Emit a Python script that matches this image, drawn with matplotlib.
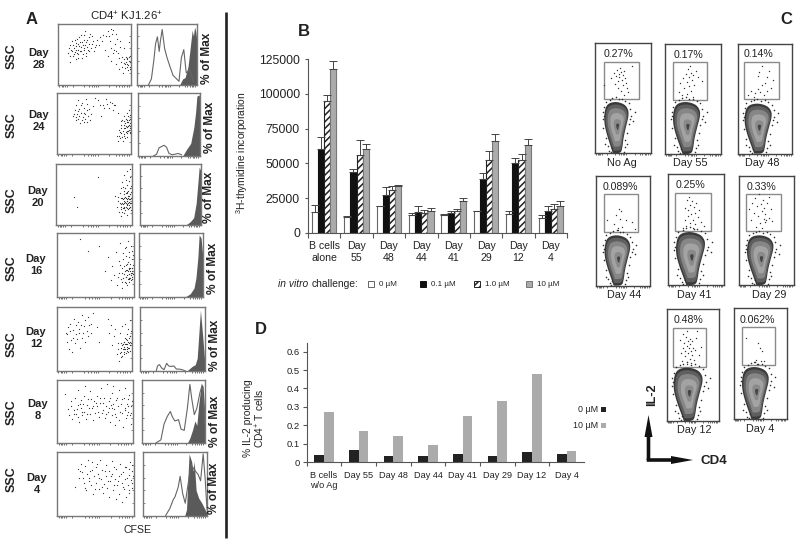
#!/usr/bin/env python3
"""Flow cytometry / proliferation figure, panels A-D."""
import matplotlib
matplotlib.use("Agg")
import matplotlib.pyplot as plt
from matplotlib.patches import Polygon, Rectangle

W, H = 800, 543
plt.rcParams.update({"font.family": ["Liberation Sans", "DejaVu Sans"],
                     "mathtext.default": "regular", "hatch.linewidth": 1.1})
INK = "#222222"
AXC = "#555555"

# ---- panel B data -----------------------------------------------------------
b_groups = ["B cells\nalone", "Day\n55", "Day\n48", "Day\n44", "Day\n41", "Day\n29", "Day\n12", "Day\n4"]
b_0 = [15000, 11500, 19000, 13000, 12500, 15500, 13500, 10500]
b_01 = [60000, 44000, 27000, 15000, 14000, 39000, 50000, 16000]
b_1 = [95000, 56000, 31000, 14000, 16000, 52500, 52500, 17000]
b_10 = [118000, 60000, 33500, 15500, 22500, 66000, 63500, 19000]
b_0_top = [20000, 12000, 19500, 14500, 13500, 16000, 16000, 13000]
b_01_top = [69000, 46000, 33000, 19000, 15500, 43000, 54000, 19000]
b_1_top = [99500, 67000, 33500, 16500, 17000, 59000, 56500, 20500]
b_10_top = [124000, 64000, 34500, 17500, 25000, 71000, 67500, 22500]
b_ticks = [0, 25000, 50000, 75000, 100000, 125000]

# ---- panel D data -----------------------------------------------------------
d_groups = ["B cells\nw/o Ag", "Day 55", "Day 48", "Day 44", "Day 41", "Day 29", "Day 12", "Day 4"]
d_0 = [0.04, 0.065, 0.03, 0.033, 0.045, 0.03, 0.055, 0.042]
d_10 = [0.27, 0.17, 0.14, 0.09, 0.25, 0.33, 0.48, 0.062]
d_ticks = [0, 0.1, 0.2, 0.3, 0.4, 0.5, 0.6]
d_ticklabels = ["0", "0.1", "0.2", "0.3", "0.4", "0.5", "0.6"]

# ---- panel A data: dots in % of panel, histogram outline and filled curve ---
a_days = ["28", "24", "20", "16", "12", "8", "4"]
a_dots = [
    [(14, 52), (16, 66), (17, 38), (18, 58), (19, 72), (21, 47), (22, 61), (23, 54), (24, 69), (25, 43), (26, 76),
     (27, 58), (28, 50), (29, 64), (30, 71), (31, 82), (32, 56), (33, 45), (34, 66), (35, 74), (36, 60), (37, 88),
     (38, 52), (39, 70), (40, 63), (42, 78), (43, 55), (44, 84), (46, 68), (48, 72), (50, 62), (53, 74), (56, 66),
     (60, 72), (64, 58), (66, 80), (68, 88), (69, 47), (71, 72), (72, 60), (73, 40), (74, 84), (75, 52), (76, 90),
     (78, 68), (79, 34), (80, 56), (81, 76), (83, 44), (84, 26), (85, 62), (86, 38), (87, 30), (88, 46), (89, 20),
     (90, 36), (91, 42), (92, 28), (93, 38), (94, 44), (95, 34), (96, 24), (97, 40), (97, 70), (98, 30), (99, 48)],
    [(22, 62), (24, 72), (25, 55), (26, 80), (27, 65), (28, 88), (29, 58), (30, 74), (31, 50), (33, 68), (34, 84),
     (35, 60), (36, 76), (37, 52), (38, 66), (39, 90), (40, 72), (42, 62), (44, 56), (48, 78), (52, 92), (56, 88),
     (60, 62), (62, 80), (66, 90), (68, 82), (70, 76), (74, 84), (76, 72), (79, 80), (81, 30), (82, 68), (83, 22),
     (84, 40), (85, 26), (86, 48), (87, 34), (88, 56), (89, 22), (90, 42), (91, 30), (91, 62), (92, 50), (93, 36),
     (94, 44), (94, 68), (95, 28), (95, 56), (96, 38), (96, 62), (97, 48), (97, 72), (98, 34), (98, 58), (99, 42)],
    [(24, 46), (28, 30), (55, 78), (78, 48), (80, 30), (82, 40), (83, 22), (84, 52), (85, 34), (86, 14), (86, 60),
     (87, 44), (87, 70), (88, 28), (89, 50), (89, 82), (90, 36), (90, 20), (91, 60), (91, 46), (92, 30), (92, 74),
     (93, 40), (93, 54), (93, 16), (94, 34), (94, 66), (94, 88), (95, 44), (95, 26), (95, 56), (96, 38), (96, 72),
     (96, 48), (97, 30), (97, 60), (97, 42), (97, 92), (98, 50), (98, 36), (98, 78), (99, 44), (99, 24), (99, 64)],
    [(30, 90), (40, 72), (55, 80), (62, 40), (66, 62), (70, 26), (72, 48), (74, 34), (76, 70), (78, 18), (80, 56),
     (81, 38), (82, 84), (83, 28), (84, 46), (85, 14), (86, 60), (87, 36), (88, 24), (88, 76), (89, 50), (90, 32),
     (90, 64), (91, 42), (91, 18), (92, 88), (92, 54), (93, 36), (93, 46), (94, 28), (94, 70), (95, 40), (95, 52),
     (96, 34), (96, 80), (97, 46), (97, 60), (98, 38), (98, 72), (99, 50)],
    [(12, 60), (13, 46), (15, 68), (16, 34), (18, 74), (19, 48), (20, 30), (21, 64), (23, 82), (24, 44), (26, 58),
     (28, 76), (30, 66), (31, 36), (33, 88), (34, 52), (36, 70), (38, 46), (40, 62), (41, 84), (43, 72), (46, 60),
     (48, 90), (54, 68), (56, 46), (68, 82), (70, 60), (72, 72), (74, 40), (76, 54), (78, 66), (80, 26), (81, 44),
     (83, 16), (84, 60), (85, 30), (86, 22), (87, 40), (87, 70), (88, 34), (89, 46), (89, 26), (90, 38), (91, 52),
     (91, 74), (92, 42), (93, 32), (93, 58), (94, 48), (95, 36), (95, 66), (96, 44), (97, 54), (97, 80), (98, 40),
     (99, 62)],
    [(10, 78), (14, 54), (16, 44), (18, 66), (20, 38), (22, 52), (24, 72), (25, 46), (27, 60), (28, 84), (29, 34),
     (31, 56), (32, 68), (33, 44), (35, 74), (36, 50), (37, 90), (38, 38), (40, 60), (41, 70), (43, 46), (44, 82),
     (46, 56), (47, 36), (49, 66), (50, 48), (52, 74), (53, 58), (55, 42), (57, 64), (58, 88), (60, 52), (62, 72),
     (63, 40), (64, 58), (66, 94), (67, 50), (68, 66), (70, 34), (71, 60), (72, 80), (73, 44), (74, 90), (75, 54),
     (76, 28), (77, 68), (78, 42), (80, 58), (81, 84), (82, 36), (84, 62), (85, 48), (87, 26), (88, 72), (89, 52),
     (90, 88), (91, 40), (92, 62), (93, 50), (95, 76), (96, 44), (97, 58), (98, 30), (99, 66)],
    [(24, 46), (27, 74), (29, 60), (31, 82), (33, 68), (35, 52), (37, 78), (38, 40), (40, 88), (41, 60), (43, 70),
     (44, 48), (46, 84), (47, 34), (48, 62), (50, 76), (51, 52), (53, 66), (54, 42), (56, 88), (57, 58), (58, 72),
     (60, 36), (61, 50), (63, 80), (64, 62), (65, 44), (67, 70), (68, 30), (69, 54), (71, 86), (72, 66), (73, 40),
     (75, 58), (76, 26), (77, 74), (78, 48), (80, 62), (81, 34), (82, 82), (84, 52), (85, 22), (86, 68), (87, 42),
     (88, 58), (89, 30), (90, 76), (92, 48), (93, 64), (94, 36), (95, 84), (96, 56), (97, 70), (98, 44), (99, 62)],
]
a_more = [
    [(15, 60), (17, 48), (19, 56), (20, 66), (22, 50), (23, 74), (24, 58), (25, 64), (26, 52), (27, 68), (28, 44), (29, 78),
     (30, 56), (31, 62), (33, 70), (34, 50), (35, 58), (36, 82), (37, 66), (38, 48), (40, 74), (41, 58), (43, 68), (45, 60),
     (47, 80), (49, 56), (52, 66), (58, 78), (62, 82), (70, 80), (72, 92), (77, 58), (80, 84), (82, 52), (85, 72), (90, 60),
     (92, 34), (93, 46), (94, 30), (96, 32), (97, 46), (98, 38), (99, 26), (95, 42)],
    [(23, 66), (26, 60), (28, 70), (30, 62), (32, 80), (34, 56), (36, 68), (38, 58), (40, 82), (41, 52), (43, 74), (46, 66),
     (58, 80), (64, 76), (72, 86), (77, 80), (84, 30), (85, 36), (86, 54), (87, 42), (88, 28), (89, 38), (90, 48), (90, 32),
     (91, 54), (92, 26), (92, 42), (93, 58), (93, 46), (94, 38), (94, 52), (95, 44), (95, 34), (96, 52), (96, 46), (97, 40),
     (97, 56), (98, 46), (98, 64), (99, 50), (99, 36)],
    [(81, 46), (84, 36), (85, 26), (85, 44), (86, 30), (87, 22), (87, 36), (88, 42), (88, 34), (89, 28), (89, 40), (90, 44),
     (90, 30), (91, 38), (91, 24), (92, 36), (92, 44), (93, 32), (93, 42), (94, 40), (94, 28), (95, 36), (95, 48), (96, 42),
     (96, 32), (96, 28), (97, 36), (97, 50), (98, 42), (98, 30), (99, 36), (99, 54), (94, 52), (92, 52), (90, 56), (88, 62)],
    [(79, 32), (82, 50), (84, 24), (85, 38), (86, 30), (87, 48), (88, 40), (89, 22), (89, 32), (90, 42), (91, 34), (91, 52),
     (92, 28), (92, 40), (93, 30), (93, 24), (94, 36), (94, 44), (95, 30), (95, 46), (96, 38), (96, 26), (97, 40), (97, 32),
     (98, 46), (98, 28), (99, 36), (99, 66), (86, 68), (90, 78), (94, 62)],
    [(14, 58), (17, 62), (22, 52), (25, 72), (27, 50), (29, 60), (32, 72), (35, 60), (37, 80), (42, 54), (45, 74), (82, 34),
     (84, 28), (85, 44), (86, 36), (87, 24), (88, 42), (89, 34), (90, 30), (90, 46), (91, 34), (91, 42), (92, 28), (92, 50),
     (93, 38), (94, 34), (94, 42), (95, 30), (95, 46), (96, 36), (96, 52), (97, 40), (97, 32), (98, 46), (98, 54), (99, 44)],
    [(19, 58), (23, 46), (26, 54), (28, 42), (30, 62), (33, 50), (34, 62), (39, 46), (42, 56), (45, 70), (48, 58), (51, 64),
     (54, 50), (56, 72), (59, 48), (61, 64), (65, 46), (69, 56), (70, 72), (73, 56), (74, 62), (76, 46), (79, 72), (83, 50),
     (86, 70), (90, 56), (92, 44), (94, 58), (94, 70), (97, 48)],
    [(30, 70), (34, 60), (36, 44), (39, 66), (42, 54), (45, 72), (49, 42), (52, 82), (55, 60), (59, 46), (62, 70), (66, 54),
     (70, 62), (74, 48), (74, 76), (79, 54), (83, 66), (86, 46), (88, 76), (91, 60), (93, 40), (94, 74), (97, 52), (98, 80)],
]
a_line_x = [
    [19, 24, 28, 31, 34, 37, 39, 42, 46, 50, 55, 60, 66, 70, 74, 78, 82, 88, 94],
    [25, 30, 34, 38, 42, 46, 50, 55, 60, 65, 70],
    [80, 90],
    [60, 90],
    [25, 27, 30, 33, 37, 41, 44, 48, 52, 56, 60, 65, 70],
    [22, 30, 35, 40, 45, 48, 52, 58, 62, 67, 72, 76, 79, 83, 87, 92, 95, 100],
    [35, 42, 47, 50, 55, 58, 62, 66, 75, 82, 86, 90, 94, 97, 100],
]
a_line_y = [
    [0, 10, 40, 68, 79, 55, 72, 91, 60, 45, 30, 16, 10, 6, 45, 58, 20, 25, 5],
    [0, 3, 13, 15, 17, 14, 4, 2, 3, 4, 2],
    [0, 0],
    [0, 0],
    [0, 8, 10, 5, 2, 12, 8, 7, 8, 3, 3, 2, 0],
    [0, 5, 30, 42, 50, 42, 35, 37, 22, 20, 55, 93, 70, 45, 55, 80, 90, 30],
    [0, 12, 25, 30, 45, 62, 35, 20, 80, 70, 65, 55, 97, 60, 10],
]
a_fill_x = [
    [71, 76, 80, 85, 88, 92, 94, 96, 98, 100],
    [72, 78, 85, 90, 93, 95, 99, 100],
    [75, 82, 88, 92, 95, 97, 100],
    [72, 80, 86, 89, 92, 94, 97, 100],
    [72, 80, 85, 88, 90, 93, 96, 100],
    [72, 76, 80, 84, 87, 90, 94, 97, 99, 100],
    [65, 68, 70, 72, 76, 78, 80, 83, 87, 92, 97, 100],
]
a_fill_y = [
    [0, 10, 12, 30, 55, 90, 80, 95, 88, 70],
    [0, 10, 20, 45, 70, 95, 97, 40],
    [0, 5, 12, 35, 70, 95, 88],
    [0, 5, 14, 30, 62, 97, 92, 60],
    [0, 7, 10, 20, 50, 95, 60, 10],
    [0, 8, 20, 35, 28, 60, 95, 90, 60, 20],
    [0, 10, 55, 97, 85, 70, 85, 40, 28, 20, 10, 5],
]

# ---- panel C data -----------------------------------------------------------
c_labels = ["No Ag", "Day 55", "Day 48", "Day 44", "Day 41", "Day 29", "Day 12", "Day 4"]
c_pct = ["0.27%", "0.17%", "0.14%", "0.089%", "0.25%", "0.33%", "0.48%", "0.062%"]
c_dots = [
    [(20, 55), (28, 70), (32, 40), (35, 62), (38, 78), (40, 48), (42, 30), (43, 68), (45, 58), (47, 82), (48, 22), (50, 72),
     (52, 50), (54, 64), (55, 38), (57, 76), (58, 12), (60, 56), (63, 44), (66, 30), (70, 20), (82, 88), (2, 38)],
    [(18, 20), (22, 45), (28, 12), (30, 58), (33, 30), (38, 70), (40, 16), (42, 48), (44, 82), (46, 60), (48, 36), (50, 90),
     (52, 72), (54, 24), (56, 52), (58, 6), (60, 66), (62, 40), (66, 78), (72, 60), (85, 50)],
    [(10, 10), (18, 22), (28, 6), (32, 15), (38, 28), (40, 62), (42, 72), (45, 20), (50, 38), (52, 88), (55, 10), (60, 42),
     (64, 60), (66, 22), (72, 76), (75, 30), (82, 50)],
    [(8, 30), (30, 20), (35, 45), (40, 10), (42, 5), (45, 60), (48, 35), (50, 55), (52, 12), (65, 30), (82, 25), (90, 6)],
    [(22, 8), (26, 28), (28, 60), (30, 12), (32, 80), (34, 38), (36, 55), (38, 90), (40, 22), (42, 68), (44, 44), (46, 78),
     (48, 8), (50, 30), (52, 62), (54, 48), (56, 18), (58, 74), (62, 36), (66, 56), (72, 24), (80, 12)],
    [(8, 60), (14, 30), (18, 76), (22, 50), (26, 88), (28, 12), (32, 66), (35, 40), (38, 98), (40, 22), (42, 72), (44, 54),
     (46, 10), (48, 84), (50, 34), (52, 62), (54, 26), (55, 45), (58, 30), (60, 76), (64, 36), (66, 90), (70, 58), (74, 28)],
    [(20, 70), (24, 35), (26, 14), (28, 50), (30, 85), (32, 62), (34, 28), (36, 42), (38, 78), (40, 8), (40, 55), (42, 92),
     (44, 66), (46, 36), (48, 48), (50, 20), (50, 72), (52, 58), (54, 10), (54, 40), (56, 30), (58, 66), (60, 50), (62, 18),
     (66, 44), (70, 76), (72, 92), (78, 30), (84, 52)],
    [(12, 70), (36, 8), (42, 14), (46, 4), (48, 58), (54, 46), (58, 10), (62, 38), (66, 10)],
]
# blob outline and outer speckle, in (half-width, height) units of each blob box
blob_u = [-0.32, -0.52, -0.78, -1.0, -0.95, -0.72, -0.2, 0.3, 0.72, 0.95, 0.68, 0.5, 0.42, 0.3]
blob_v = [0.0, 0.16, 0.36, 0.6, 0.84, 0.96, 1.0, 0.98, 0.92, 0.78, 0.5, 0.3, 0.12, 0.0]
speck = [(-1.05, 0.5), (-1.1, 0.66), (-1.08, 0.8), (-0.98, 0.9), (-0.85, 0.3), (-0.7, 0.14), (-0.62, 0.05), (-0.5, 0.02),
         (-0.85, 1.0), (-0.55, 1.04), (-0.35, 1.07), (-0.1, 1.09), (0.15, 1.05), (0.4, 1.06), (0.65, 1.02), (0.9, 0.97),
         (1.03, 0.86), (1.08, 0.72), (0.9, 0.56), (0.78, 0.4), (0.65, 0.26), (0.58, 0.12), (0.52, 0.03), (1.25, 0.62),
         (1.35, 0.8), (-0.9, 0.18), (-0.42, 0.1), (0.75, 0.18), (-1.02, 0.72), (1.0, 0.66)]

# ---- pixel layouts ----------------------------------------------------------
A_SC = [(58, 24, 131, 85), (57, 93, 131, 154), (56, 164, 132, 225), (57, 233, 134, 297),
        (57, 307, 132, 371), (57, 380, 133, 443), (57, 452, 134, 516)]
A_HI = [(137, 24, 197, 85), (138, 93, 200, 156), (140, 164, 201, 225), (139, 233, 203, 297),
        (140, 307, 205, 371), (142, 380, 205, 443), (143, 452, 207, 516)]
A_SSC_Y = [56, 125, 200, 268, 344, 412, 479]
A_DAY_XY = [(39, 59), (39, 121), (38, 197), (36, 265), (36, 338), (38, 410), (37, 484)]
A_MAX_XY = [(207, 58), (210, 127), (209, 197.5), (213, 268), (215, 345), (215, 421), (214, 488)]
C_BOX = [(595.3, 43.3, 651.3, 153.3), (664.7, 44, 721.3, 154), (737.7, 43.7, 792.3, 153.7), (596.3, 175.7, 650.3, 285.7),
         (668, 174.3, 724, 285), (738.7, 175.7, 793.7, 285), (666.7, 309.3, 718.7, 421), (733.7, 308.3, 787, 419.3)]
C_GATE = [(603.7, 61.7, 638.7, 99), (672.7, 62.3, 707.3, 99.7), (744.3, 61.7, 779.3, 99), (604, 194.3, 638, 231.7),
          (675.3, 192.7, 711.3, 231), (746, 193.7, 781.3, 231.3), (673.3, 328.3, 706.3, 366.7), (741.7, 327, 775, 365.3)]
C_BLOB = [(604, 630, 101.7), (672.7, 701.7, 101.7), (744.3, 773.3, 103.3), (604.3, 631.7, 235),
          (675.7, 706.7, 231.7), (746.7, 775, 235), (673.3, 704.3, 367.3), (741.7, 770.3, 366.7)]
C_PCT_XY = [(619, 54.3), (688, 55), (759, 54), (620, 187), (690.7, 185.3), (761.7, 187), (688, 320.3), (757, 320.3)]
C_LAB_XY = [(621.7, 163.3), (690.3, 163.3), (762.7, 162.7), (624, 295), (694, 295), (769, 294.5), (694.3, 430), (759.7, 429.3)]
FLOW_TICKS = [0.02, 0.05, 0.07, 0.09, 0.12, 0.2, 0.36, 0.42, 0.46, 0.49, 0.52, 0.55, 0.7, 0.8, 0.84, 0.88, 0.91, 0.94, 0.97]
SIDE_TICKS = [0.0, 0.2, 0.4, 0.6, 0.8, 1.0]


def px_axes(fig, box, **kw):
    x0, y0, x1, y1 = box
    return fig.add_axes([x0 / W, 1 - y1 / H, (x1 - x0) / W, (y1 - y0) / H], **kw)


def flow_frame(ax, color="#777777", lw=1.0, left=False, right=False):
    # ticks are placed as fractions of whatever limits the panel already has
    x0, x1 = ax.get_xlim()
    y0, y1 = ax.get_ylim()
    for s in ax.spines.values():
        s.set_color(color); s.set_linewidth(lw)
    ax.set_xticks([x0 + t * (x1 - x0) for t in FLOW_TICKS]); ax.set_xticklabels([])
    ax.set_yticks([y0 + t * (y1 - y0) for t in SIDE_TICKS] if (left or right) else [])
    ax.set_yticklabels([])
    ax.set_xlim(x0, x1); ax.set_ylim(y0, y1)
    ax.tick_params(axis="x", length=1.6, width=0.5, color="#333333", direction="out")
    ax.tick_params(axis="y", length=1.6, width=0.5, color="#555555", direction="in", left=left, right=right)


def round_corners(xs, ys, n=3):
    # corner cutting so the contour shapes look drawn, not polygonal
    pts = list(zip(xs, ys))
    for _ in range(n):
        out = [pts[0]]
        for (a, b), (c, d) in zip(pts[:-1], pts[1:]):
            out += [(0.75 * a + 0.25 * c, 0.75 * b + 0.25 * d), (0.25 * a + 0.75 * c, 0.25 * b + 0.75 * d)]
        out.append(pts[-1])
        pts = out
    return pts


fig = plt.figure(figsize=(W / 100, H / 100), dpi=100, facecolor="white")
ov = fig.add_axes([0, 0, 1, 1], zorder=5)
ov.set_xlim(0, W); ov.set_ylim(H, 0); ov.axis("off"); ov.patch.set_alpha(0)

# ---- Panel A ----------------------------------------------------------------
for i, day in enumerate(a_days):
    ax = px_axes(fig, A_SC[i])
    ax.set_xlim(0, 100); ax.set_ylim(0, 100)
    dots = a_dots[i] + a_more[i]
    ax.scatter([p[0] for p in dots], [p[1] for p in dots], s=0.8, color="#333333", linewidths=0)
    flow_frame(ax, right=True)
    ov.text(12, A_SSC_Y[i], "SSC", rotation=90, ha="center", va="center", fontsize=9, fontweight="bold", color=INK)
    ov.text(A_DAY_XY[i][0], A_DAY_XY[i][1], "Day\n" + day, ha="center", va="center", fontsize=8, fontweight="bold",
            color=INK, linespacing=1.15)

    hx = px_axes(fig, A_HI[i])
    hx.set_xlim(0, 100); hx.set_ylim(0, 100)
    hx.fill_between(a_fill_x[i], a_fill_y[i], color="#5a5a5a", lw=0)
    hx.plot(a_line_x[i], a_line_y[i], color="#666666", lw=0.8)
    flow_frame(hx, left=True)
    ov.text(A_MAX_XY[i][0], A_MAX_XY[i][1], "% of Max", rotation=90, ha="center", va="center",
            fontsize=8.6, fontweight="bold", color=INK)

ov.text(32, 19, "A", ha="center", va="center", fontsize=12, fontweight="bold", color=INK)
ov.text(126, 16, "CD4$^{+}$ KJ1.26$^{+}$", ha="center", va="center", fontsize=8.2, color=INK)
ov.text(137, 530, "CFSE", ha="center", va="center", fontsize=7.6, color=INK)
ov.plot([226, 226], [12, 538], color="#222222", lw=1.9, solid_capstyle="butt")

# ---- Panel B ----------------------------------------------------------------
ab = px_axes(fig, (308, 59.3, 567, 232.7))
ab.patch.set_alpha(0)
bar_w = 0.19
idx = list(range(8))
b_series = [(b_0, b_0_top, "white", "#666666", None), (b_01, b_01_top, "#111111", "#111111", None),
            (b_1, b_1_top, "white", "#222222", "/////"), (b_10, b_10_top, "#ababab", "#777777", None)]
for j, (vals, tops, fc, ec, hatch) in enumerate(b_series):
    xs = [g + 0.5 + (j - 1.5) * bar_w for g in idx]
    ab.bar(xs, vals, width=bar_w, facecolor=fc, edgecolor=ec, hatch=hatch, linewidth=0.8, zorder=2)
    ab.errorbar(xs, vals, yerr=[[0] * 8, [t - v for t, v in zip(tops, vals)]], fmt="none", ecolor="#444444",
                elinewidth=0.7, capsize=2.6, capthick=0.7, zorder=3)
ab.set_xlim(0, 8); ab.set_ylim(0, 125000)
ab.spines[["top", "right"]].set_visible(False)
ab.spines[["left", "bottom"]].set_color(AXC)
ab.set_yticks(b_ticks)
ab.set_yticklabels([str(t) for t in b_ticks], fontsize=8.8, color=INK)
ab.set_xticks(range(9)); ab.set_xticklabels([])
ab.set_xticks([g + 0.5 for g in idx], labels=b_groups, minor=True, fontsize=7.6, color=INK, linespacing=1.2)
ab.tick_params(axis="x", which="minor", length=0, pad=6)
ab.tick_params(axis="x", which="major", length=3.5, width=0.8, color=AXC)
ab.tick_params(axis="y", length=2.4, width=0.8, color=AXC, pad=3.4)
ov.text(242, 153, "$^{3}$H-thymidine incorporation", rotation=90, ha="center", va="center", fontsize=7.4, color=INK)
ov.text(304, 32, "B", ha="center", va="center", fontsize=12, fontweight="bold", color=INK)

ov.text(278, 284, "in vitro", style="italic", ha="left", va="center", fontsize=7.4, color=INK)
ov.text(311.5, 284, "challenge:", ha="left", va="center", fontsize=7.4, color=INK)
leg_x = [370.7, 423, 476.7, 529]
leg_txt = ["0 µM", "0.1 µM", "1.0 µM", "10 µM"]
for lx, txt, (_, _, fc, ec, hatch) in zip(leg_x, leg_txt, b_series):
    ov.add_patch(Rectangle((lx - 3, 281), 6, 6, facecolor=fc, edgecolor=ec, hatch=hatch, lw=0.7))
    ov.text(lx + 8, 284, txt, ha="left", va="center", fontsize=5.8, color=INK)

# ---- Panel D ----------------------------------------------------------------
ad = px_axes(fig, (306.7, 343, 584, 462))
ad.patch.set_alpha(0)
ad.bar([g + 0.36 for g in idx], d_0, width=0.28, color="#222222", zorder=2)
ad.bar([g + 0.64 for g in idx], d_10, width=0.28, color="#ababab", zorder=2)
ad.set_xlim(0, 8); ad.set_ylim(0, 0.647)
ad.spines[["top", "right"]].set_visible(False)
ad.spines[["left", "bottom"]].set_color(AXC)
ad.set_yticks(d_ticks); ad.set_yticklabels(d_ticklabels, fontsize=6.8, color=INK)
ad.set_xticks(range(8)); ad.set_xticklabels([])
ad.tick_params(axis="x", which="major", length=3, width=0.8, color=AXC)
ad.tick_params(axis="y", length=3, width=0.8, color=AXC, pad=2)
for g, lab in zip(idx, d_groups):
    ad.annotate(lab, (g + 0.5, 0), xytext=(0, -6.5), textcoords="offset points",
                ha="center", va="top", fontsize=6.6, color=INK, linespacing=1.2,
                multialignment="left")
ov.text(255, 418, "% IL-2 producing\nCD4$^{+}$ T cells", rotation=90, ha="center", va="center", fontsize=7.4,
        color=INK, linespacing=1.05)
ov.text(261, 330, "D", ha="center", va="center", fontsize=12, fontweight="bold", color=INK)
ov.text(598, 409, "0 µM", ha="right", va="center", fontsize=6.4, color=INK)
ov.text(598, 425, "10 µM", ha="right", va="center", fontsize=6.4, color=INK)
ov.add_patch(Rectangle((600.5, 406.5), 5, 5, color="#222222", lw=0))
ov.add_patch(Rectangle((600.5, 422.5), 5, 5, color="#ababab", lw=0))

# ---- Panel C ----------------------------------------------------------------
blob_layers = [(1.0, "#3a3a3a"), (0.9, "#5f5f5f"), (0.75, "#868686"), (0.55, "#a3a3a3"), (0.3, "#8a8a8a"), (0.12, "#444444")]
for i in range(8):
    x0, y0, x1, y1 = C_BOX[i]
    ax = px_axes(fig, C_BOX[i])
    ax.set_xlim(x0, x1); ax.set_ylim(y1, y0)
    flow_frame(ax, color="#444444", lw=1.0)

    gx0, gy0, gx1, gy1 = C_GATE[i]
    ax.add_patch(Rectangle((gx0, gy0), gx1 - gx0, gy1 - gy0, fill=False, edgecolor="#8a8a8a", lw=1.0))
    ax.scatter([gx0 + p[0] / 100 * (gx1 - gx0) for p in c_dots[i]], [gy1 - p[1] / 100 * (gy1 - gy0) for p in c_dots[i]],
               s=1.0, color="#333333", linewidths=0)

    bl, br, bt = C_BLOB[i]
    cx, hw, hh = (bl + br) / 2, (br - bl) / 2, y1 - bt
    for f, col in blob_layers:
        us = [0.06 + (u - 0.06) * f for u in blob_u]
        vs = [0.52 + (v - 0.52) * f if f < 1 else v for v in blob_v]
        pts = round_corners(us + us[:1], vs + vs[:1])
        ax.add_patch(Polygon([(cx + u * hw, y1 - v * hh) for u, v in pts], closed=True, facecolor=col, edgecolor="none"))
    ax.scatter([cx + u * hw for u, v in speck], [y1 - v * hh for u, v in speck], s=1.3, color="#2e2e2e", linewidths=0)

    ov.text(C_PCT_XY[i][0], C_PCT_XY[i][1], c_pct[i], ha="center", va="center", fontsize=7.6, color=INK)
    ov.text(C_LAB_XY[i][0], C_LAB_XY[i][1], c_labels[i], ha="center", va="center", fontsize=7.8, color=INK)

ov.text(786, 19, "C", ha="center", va="center", fontsize=12, fontweight="bold", color=INK)
ov.arrow(648.5, 460, 0, -45, width=3.6, head_width=8, head_length=22, length_includes_head=True, color="#111111", lw=0)
ov.arrow(646.7, 460, 46.3, 0, width=3.6, head_width=8, head_length=22, length_includes_head=True, color="#111111", lw=0)
ov.text(652, 395, "IL-2", rotation=90, ha="center", va="center", fontsize=9.2, fontweight="bold", color=INK)
ov.text(714, 461, "CD4", ha="center", va="center", fontsize=9.6, fontweight="bold", color=INK)

fig.savefig("out.png", dpi=100)
